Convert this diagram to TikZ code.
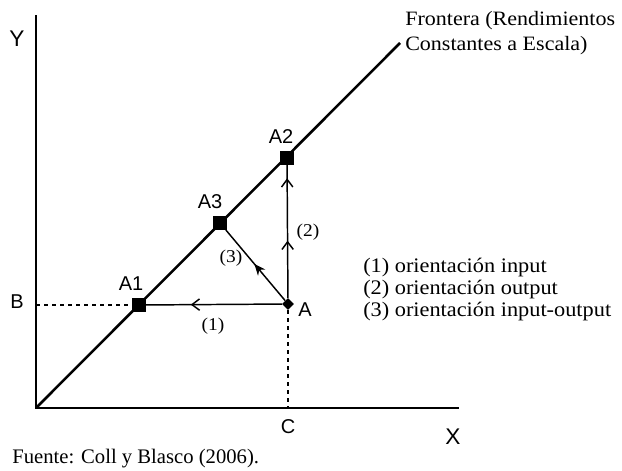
\documentclass[tikz,border=0pt]{standalone}
\usepackage{fontspec}
\setmainfont{Liberation Serif}
\setsansfont{Liberation Sans}
\newfontfamily\widefont[FakeStretch=1.08]{Liberation Serif}
\usetikzlibrary{arrows.meta,shapes.geometric,decorations.markings}

\begin{document}
\begin{tikzpicture}[x=0.75pt, y=-0.75pt,
  eff/.style={rectangle, fill=black, inner sep=0pt, minimum size=10pt},
  ptlbl/.style={font=\sffamily\fontsize{15}{17}\selectfont, inner sep=0pt},
  axlbl/.style={font=\sffamily\fontsize{17}{19}\selectfont, inner sep=0pt},
  numlbl/.style={font=\widefont\fontsize{13.5}{15}\selectfont, inner sep=0pt},
  txt/.style={font=\widefont\fontsize{15.3}{18.75}\selectfont, align=left, inner sep=0pt, anchor=west},
  path/.style={line width=1.1pt},
  tip/.style={postaction={decorate}, decoration={markings,
    mark=at position #1 with {\arrow{Straight Barb[length=2mm,width=3mm]}}}}]
  \useasboundingbox (0,0) rectangle (622,471);
  % axes and frontier
  \coordinate (O) at (36,408);
  \coordinate (ytop) at (36,15);
  \coordinate (xend) at (459,408);
  \coordinate (fend) at (400,43);
  \draw[line width=1.5pt] (ytop) -- (O) -- (xend);
  \draw[line width=1.9pt] (O) -- (fend);
  \node[axlbl] (ylab) at (17,39) {Y};
  \node[axlbl] (xlab) at (453,437) {X};
  % points
  \node[eff] (A1) at (139,305) {};
  \node[eff] (A3) at (220,223) {};
  \node[eff] (A2) at (287,158) {};
  \node[diamond, fill=black, inner sep=0pt, minimum size=9pt] (A) at (288,304) {};
  \node[ptlbl] (blab) at (17,302) {B};
  \node[ptlbl] (clab) at (288,427) {C};
  \node[ptlbl] (a1lab) at (131,284) {A1};
  \node[ptlbl] (a3lab) at (210,202) {A3};
  \node[ptlbl] (a2lab) at (281,137) {A2};
  \node[ptlbl] (alab) at (305,310) {A};
  % projections
  \draw[dashed, path] (O |- A1) -- (A1);
  \draw[dashed, path] (A) -- (A |- O);
  \draw[path, tip=0.67] (A) -- (A1);
  \draw[path, postaction={decorate}, decoration={markings,
    mark=at position 0.43 with {\arrow{Straight Barb[length=2mm,width=3mm]}},
    mark=at position 0.9 with {\arrow{Straight Barb[length=2mm,width=3mm]}}}] (A) -- (A2);
  \draw[path, postaction={decorate}, decoration={markings,
    mark=at position 0.52 with {\arrow{Stealth[length=3mm,width=2.5mm]}}}] (A) -- (A3);
  \node[numlbl] (n1) at (213,326) {(1)};
  \node[numlbl] (n2) at (308,232) {(2)};
  \node[numlbl] (n3) at (231,258) {(3)};
  % texts
  \node[txt] (front) at (405,33) {Frontera (Rendimientos\\Constantes a Escala)};
  \node[txt, font=\widefont\fontsize{15.5}{16.5}\selectfont] (legend) at (363,290)
    {(1) orientación input\\(2) orientación output\\(3) orientación input-output};
  \node[txt, font=\fontsize{15.5}{18}\selectfont] (src) at (12,459) {Fuente: Coll y Blasco (2006).};
\end{tikzpicture}
\end{document}
